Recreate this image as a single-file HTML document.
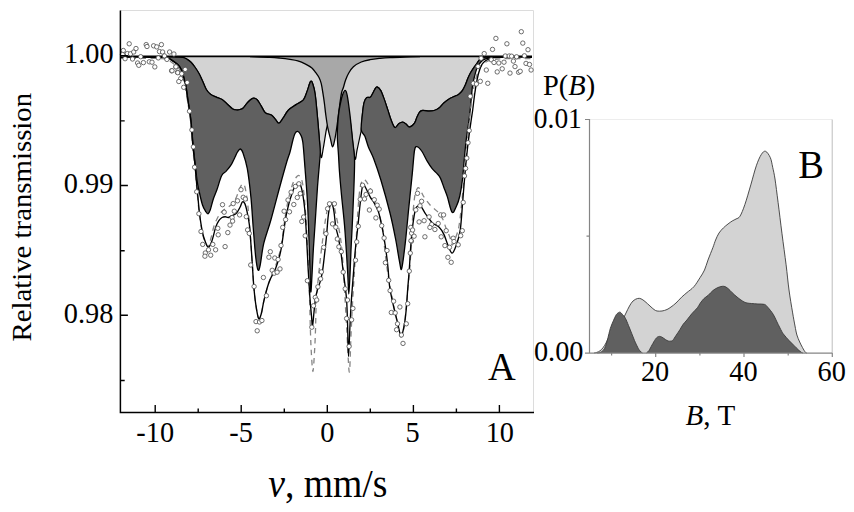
<!DOCTYPE html>
<html><head><meta charset="utf-8"><style>
html,body{margin:0;padding:0;background:#fff;width:854px;height:512px;overflow:hidden}
svg{display:block;font-family:"Liberation Serif",serif}
</style></head><body>
<svg width="854" height="512" viewBox="0 0 854 512">
<rect width="854" height="512" fill="#fff"/>
<path d="M120.5 10.5 H533.5 V412.5" fill="none" stroke="#dcdcdc" stroke-width="1"/>
<path d="M168.00 56.80 C169.33 56.83 173.50 56.92 176.00 57.00 C178.50 57.08 181.12 56.90 183.00 57.30 C184.88 57.70 185.93 58.53 187.30 59.40 C188.68 60.27 189.93 61.15 191.25 62.50 C192.57 63.85 193.91 65.67 195.20 67.50 C196.49 69.33 197.85 71.42 199.00 73.50 C200.15 75.58 200.88 77.33 202.10 80.00 C203.32 82.67 204.90 87.13 206.30 89.50 C207.70 91.87 208.92 92.97 210.50 94.20 C212.08 95.43 213.87 96.02 215.80 96.90 C217.73 97.78 220.17 98.28 222.10 99.50 C224.03 100.72 225.63 102.62 227.40 104.20 C229.17 105.78 231.12 108.03 232.70 109.00 C234.28 109.97 235.68 109.92 236.90 110.00 C238.12 110.08 238.95 109.85 240.00 109.50 C241.05 109.15 241.97 109.03 243.20 107.90 C244.43 106.77 245.82 104.28 247.40 102.70 C248.98 101.12 251.12 98.93 252.70 98.40 C254.28 97.87 255.50 98.27 256.90 99.50 C258.30 100.73 259.70 103.60 261.10 105.80 C262.50 108.00 263.53 111.12 265.30 112.70 C267.07 114.28 269.93 114.08 271.70 115.30 C273.47 116.52 274.68 118.68 275.90 120.00 C277.12 121.32 277.78 123.55 279.00 123.20 C280.22 122.85 281.62 120.10 283.20 117.90 C284.78 115.70 286.30 112.25 288.50 110.00 C290.70 107.75 293.92 106.10 296.40 104.40 C298.88 102.70 301.63 101.93 303.40 99.80 C305.17 97.67 305.82 94.65 307.00 91.60 C308.18 88.55 309.53 82.77 310.50 81.50 C311.47 80.23 312.02 81.83 312.80 84.00 C313.58 86.17 314.42 88.95 315.20 94.50 C315.98 100.05 316.78 109.58 317.50 117.30 C318.22 125.02 318.88 134.10 319.50 140.80 C320.12 147.50 320.53 156.47 321.20 157.50 C321.87 158.53 322.58 151.92 323.50 147.00 C324.42 142.08 325.62 132.83 326.70 128.00 C327.78 123.17 328.62 120.67 330.00 118.00 C331.38 115.33 333.33 114.17 335.00 112.00 C336.67 109.83 338.33 107.00 340.00 105.00 C341.67 103.00 343.33 97.50 345.00 100.00 C346.67 102.50 348.67 112.50 350.00 120.00 C351.33 127.50 352.13 138.47 353.00 145.00 C353.87 151.53 354.53 158.30 355.20 159.20 C355.87 160.10 356.27 153.92 357.00 150.40 C357.73 146.88 358.87 141.62 359.60 138.10 C360.33 134.58 360.95 133.12 361.40 129.30 C361.85 125.48 361.87 119.60 362.30 115.20 C362.73 110.80 363.27 105.83 364.00 102.90 C364.73 99.97 365.67 98.53 366.70 97.60 C367.73 96.67 369.18 98.03 370.20 97.30 C371.22 96.57 372.00 94.58 372.80 93.20 C373.60 91.82 374.27 90.03 375.00 89.00 C375.73 87.97 376.23 86.73 377.20 87.00 C378.17 87.27 379.62 88.53 380.80 90.60 C381.98 92.67 383.13 96.18 384.30 99.40 C385.47 102.62 386.63 106.38 387.80 109.90 C388.97 113.42 390.10 117.57 391.30 120.50 C392.50 123.43 393.72 127.00 395.00 127.50 C396.28 128.00 397.70 124.40 399.00 123.50 C400.30 122.60 401.63 122.02 402.80 122.10 C403.97 122.18 404.87 123.18 406.00 124.00 C407.13 124.82 408.18 127.15 409.60 127.00 C411.02 126.85 413.27 124.77 414.50 123.10 C415.73 121.43 416.18 118.80 417.00 117.00 C417.82 115.20 418.52 113.38 419.40 112.30 C420.28 111.22 420.67 110.72 422.30 110.50 C423.93 110.28 427.23 111.00 429.20 111.00 C431.17 111.00 432.47 111.00 434.10 110.50 C435.73 110.00 437.38 109.25 439.00 108.00 C440.62 106.75 442.18 104.47 443.80 103.00 C445.42 101.53 447.07 100.25 448.70 99.20 C450.33 98.15 451.97 97.48 453.60 96.70 C455.23 95.92 457.03 95.53 458.50 94.50 C459.97 93.47 461.27 92.08 462.40 90.50 C463.53 88.92 464.40 87.00 465.30 85.00 C466.20 83.00 466.95 80.50 467.80 78.50 C468.65 76.50 469.40 74.82 470.40 73.00 C471.40 71.18 472.65 69.28 473.80 67.60 C474.95 65.92 476.33 64.23 477.30 62.90 C478.27 61.57 478.73 60.48 479.60 59.60 C480.47 58.72 481.43 58.03 482.50 57.60 C483.57 57.17 483.08 57.13 486.00 57.00 C488.92 56.87 497.67 56.88 500.00 56.80 C502.33 56.72 555.33 56.55 500.00 56.50 C444.67 56.45 223.33 56.50 168.00 56.50 Z" fill="#d3d3d3" stroke="none"/>
<path d="M168.00 56.80 C169.33 56.83 173.50 56.92 176.00 57.00 C178.50 57.08 181.12 56.90 183.00 57.30 C184.88 57.70 185.93 58.53 187.30 59.40 C188.68 60.27 189.93 61.15 191.25 62.50 C192.57 63.85 193.91 65.67 195.20 67.50 C196.49 69.33 197.85 71.42 199.00 73.50 C200.15 75.58 200.88 77.33 202.10 80.00 C203.32 82.67 204.90 87.13 206.30 89.50 C207.70 91.87 208.92 92.97 210.50 94.20 C212.08 95.43 213.87 96.02 215.80 96.90 C217.73 97.78 220.17 98.28 222.10 99.50 C224.03 100.72 225.63 102.62 227.40 104.20 C229.17 105.78 231.12 108.03 232.70 109.00 C234.28 109.97 235.68 109.92 236.90 110.00 C238.12 110.08 238.95 109.85 240.00 109.50 C241.05 109.15 241.97 109.03 243.20 107.90 C244.43 106.77 245.82 104.28 247.40 102.70 C248.98 101.12 251.12 98.93 252.70 98.40 C254.28 97.87 255.50 98.27 256.90 99.50 C258.30 100.73 259.70 103.60 261.10 105.80 C262.50 108.00 263.53 111.12 265.30 112.70 C267.07 114.28 269.93 114.08 271.70 115.30 C273.47 116.52 274.68 118.68 275.90 120.00 C277.12 121.32 277.78 123.55 279.00 123.20 C280.22 122.85 281.62 120.10 283.20 117.90 C284.78 115.70 286.30 112.25 288.50 110.00 C290.70 107.75 293.92 106.10 296.40 104.40 C298.88 102.70 301.63 101.93 303.40 99.80 C305.17 97.67 305.82 94.65 307.00 91.60 C308.18 88.55 309.53 82.77 310.50 81.50 C311.47 80.23 312.02 81.83 312.80 84.00 C313.58 86.17 314.42 88.95 315.20 94.50 C315.98 100.05 316.78 109.58 317.50 117.30 C318.22 125.02 318.88 134.10 319.50 140.80 C320.12 147.50 320.53 156.47 321.20 157.50 C321.87 158.53 322.58 151.92 323.50 147.00 C324.42 142.08 325.62 132.83 326.70 128.00 C327.78 123.17 328.62 120.67 330.00 118.00 C331.38 115.33 333.33 114.17 335.00 112.00 C336.67 109.83 338.33 107.00 340.00 105.00 C341.67 103.00 343.33 97.50 345.00 100.00 C346.67 102.50 348.67 112.50 350.00 120.00 C351.33 127.50 352.13 138.47 353.00 145.00 C353.87 151.53 354.53 158.30 355.20 159.20 C355.87 160.10 356.27 153.92 357.00 150.40 C357.73 146.88 358.87 141.62 359.60 138.10 C360.33 134.58 360.95 133.12 361.40 129.30 C361.85 125.48 361.87 119.60 362.30 115.20 C362.73 110.80 363.27 105.83 364.00 102.90 C364.73 99.97 365.67 98.53 366.70 97.60 C367.73 96.67 369.18 98.03 370.20 97.30 C371.22 96.57 372.00 94.58 372.80 93.20 C373.60 91.82 374.27 90.03 375.00 89.00 C375.73 87.97 376.23 86.73 377.20 87.00 C378.17 87.27 379.62 88.53 380.80 90.60 C381.98 92.67 383.13 96.18 384.30 99.40 C385.47 102.62 386.63 106.38 387.80 109.90 C388.97 113.42 390.10 117.57 391.30 120.50 C392.50 123.43 393.72 127.00 395.00 127.50 C396.28 128.00 397.70 124.40 399.00 123.50 C400.30 122.60 401.63 122.02 402.80 122.10 C403.97 122.18 404.87 123.18 406.00 124.00 C407.13 124.82 408.18 127.15 409.60 127.00 C411.02 126.85 413.27 124.77 414.50 123.10 C415.73 121.43 416.18 118.80 417.00 117.00 C417.82 115.20 418.52 113.38 419.40 112.30 C420.28 111.22 420.67 110.72 422.30 110.50 C423.93 110.28 427.23 111.00 429.20 111.00 C431.17 111.00 432.47 111.00 434.10 110.50 C435.73 110.00 437.38 109.25 439.00 108.00 C440.62 106.75 442.18 104.47 443.80 103.00 C445.42 101.53 447.07 100.25 448.70 99.20 C450.33 98.15 451.97 97.48 453.60 96.70 C455.23 95.92 457.03 95.53 458.50 94.50 C459.97 93.47 461.27 92.08 462.40 90.50 C463.53 88.92 464.40 87.00 465.30 85.00 C466.20 83.00 466.95 80.50 467.80 78.50 C468.65 76.50 469.40 74.82 470.40 73.00 C471.40 71.18 472.65 69.28 473.80 67.60 C474.95 65.92 476.33 64.23 477.30 62.90 C478.27 61.57 478.73 60.48 479.60 59.60 C480.47 58.72 481.43 58.03 482.50 57.60 C483.57 57.17 483.08 57.13 486.00 57.00 C488.92 56.87 497.67 56.83 500.00 56.80" fill="none" stroke="#000" stroke-width="1.2"/>
<path d="M250.00 56.60 C253.33 56.72 265.00 57.05 270.00 57.30 C275.00 57.55 276.67 57.75 280.00 58.10 C283.33 58.45 287.03 58.93 290.00 59.40 C292.97 59.87 295.20 60.12 297.80 60.90 C300.40 61.68 303.25 62.92 305.60 64.10 C307.95 65.28 310.20 66.57 311.90 68.00 C313.60 69.43 314.63 71.15 315.80 72.70 C316.97 74.25 317.99 75.48 318.90 77.30 C319.81 79.12 320.57 80.87 321.25 83.60 C321.93 86.33 322.46 90.30 323.00 93.70 C323.54 97.10 324.05 100.58 324.50 104.00 C324.95 107.42 325.15 110.22 325.70 114.20 C326.25 118.18 327.00 123.78 327.80 127.90 C328.60 132.02 329.72 135.75 330.50 138.90 C331.28 142.05 331.80 146.62 332.50 146.80 C333.20 146.98 333.95 143.47 334.70 140.00 C335.45 136.53 336.23 131.33 337.00 126.00 C337.77 120.67 338.55 113.50 339.30 108.00 C340.05 102.50 340.83 96.37 341.50 93.00 C342.17 89.63 342.62 89.97 343.30 87.80 C343.98 85.63 344.69 82.47 345.60 80.00 C346.51 77.53 347.45 75.22 348.75 73.00 C350.05 70.78 351.32 68.53 353.40 66.70 C355.48 64.87 358.48 63.17 361.25 62.00 C364.02 60.83 366.88 60.30 370.00 59.70 C373.12 59.10 376.67 58.75 380.00 58.40 C383.33 58.05 385.83 57.83 390.00 57.60 C394.17 57.37 400.00 57.17 405.00 57.00 C410.00 56.83 417.50 56.67 420.00 56.60" fill="#a8a8a8" stroke="#000" stroke-width="1.3" stroke-linejoin="round"/>
<path d="M168.00 56.80 C169.50 56.77 173.50 56.92 176.00 57.00 C178.50 57.08 181.12 56.90 183.00 57.30 C184.88 57.70 185.93 58.53 187.30 59.40 C188.68 60.27 189.93 61.15 191.25 62.50 C192.57 63.85 193.91 65.67 195.20 67.50 C196.49 69.33 197.85 71.42 199.00 73.50 C200.15 75.58 200.88 77.33 202.10 80.00 C203.32 82.67 204.90 87.13 206.30 89.50 C207.70 91.87 208.92 92.97 210.50 94.20 C212.08 95.43 213.87 96.02 215.80 96.90 C217.73 97.78 220.17 98.28 222.10 99.50 C224.03 100.72 225.63 102.62 227.40 104.20 C229.17 105.78 231.12 108.03 232.70 109.00 C234.28 109.97 235.68 109.92 236.90 110.00 C238.12 110.08 238.95 109.85 240.00 109.50 C241.05 109.15 241.97 109.03 243.20 107.90 C244.43 106.77 245.82 104.28 247.40 102.70 C248.98 101.12 251.12 98.93 252.70 98.40 C254.28 97.87 255.50 98.27 256.90 99.50 C258.30 100.73 259.70 103.60 261.10 105.80 C262.50 108.00 263.53 111.12 265.30 112.70 C267.07 114.28 269.93 114.08 271.70 115.30 C273.47 116.52 274.68 118.68 275.90 120.00 C277.12 121.32 277.78 123.55 279.00 123.20 C280.22 122.85 281.62 120.10 283.20 117.90 C284.78 115.70 286.30 112.25 288.50 110.00 C290.70 107.75 293.92 106.10 296.40 104.40 C298.88 102.70 301.63 101.93 303.40 99.80 C305.17 97.67 305.82 94.65 307.00 91.60 C308.18 88.55 309.53 82.77 310.50 81.50 C311.47 80.23 312.02 81.83 312.80 84.00 C313.58 86.17 314.42 88.95 315.20 94.50 C315.98 100.05 316.78 109.58 317.50 117.30 C318.22 125.02 319.03 135.02 319.50 140.80 C319.97 146.58 320.28 148.47 320.30 152.00 C320.32 155.53 320.07 156.18 319.60 162.00 C319.13 167.82 318.23 176.90 317.50 186.90 C316.77 196.90 315.90 211.48 315.20 222.00 C314.50 232.52 313.83 241.17 313.30 250.00 C312.77 258.83 312.42 268.00 312.00 275.00 C311.58 282.00 311.13 292.83 310.80 292.00 C310.47 291.17 310.30 278.67 310.00 270.00 C309.70 261.33 309.42 251.25 309.00 240.00 C308.58 228.75 308.17 214.50 307.50 202.50 C306.83 190.50 305.78 178.08 305.00 168.00 C304.22 157.92 303.55 147.58 302.80 142.00 C302.05 136.42 301.37 136.27 300.50 134.50 C299.63 132.73 298.52 131.57 297.60 131.40 C296.68 131.23 295.78 132.07 295.00 133.50 C294.22 134.93 293.73 136.92 292.90 140.00 C292.07 143.08 290.98 148.50 290.00 152.00 C289.02 155.50 288.67 155.33 287.00 161.00 C285.33 166.67 282.70 176.12 280.00 186.00 C277.30 195.88 273.52 210.68 270.80 220.30 C268.08 229.92 265.47 236.25 263.70 243.70 C261.93 251.15 261.15 260.62 260.20 265.00 C259.25 269.38 258.75 271.33 258.00 270.00 C257.25 268.67 256.50 264.12 255.70 257.00 C254.90 249.88 254.00 237.32 253.20 227.30 C252.40 217.28 251.88 206.67 250.90 196.90 C249.92 187.13 248.62 176.02 247.30 168.70 C245.98 161.38 244.17 156.28 243.00 153.00 C241.83 149.72 241.22 149.17 240.30 149.00 C239.38 148.83 238.28 150.85 237.50 152.00 C236.72 153.15 236.70 153.70 235.60 155.90 C234.50 158.10 232.47 162.67 230.90 165.20 C229.33 167.73 227.75 169.33 226.20 171.10 C224.65 172.87 223.15 172.68 221.60 175.80 C220.05 178.92 218.27 185.97 216.90 189.80 C215.53 193.63 214.50 195.48 213.40 198.80 C212.30 202.12 211.20 207.20 210.30 209.70 C209.40 212.20 208.78 213.53 208.00 213.80 C207.22 214.07 206.52 212.77 205.60 211.30 C204.68 209.83 203.53 208.13 202.50 205.00 C201.47 201.87 200.32 196.67 199.40 192.50 C198.48 188.33 198.03 187.83 197.00 180.00 C195.97 172.17 194.22 155.50 193.20 145.50 C192.18 135.50 191.77 127.58 190.90 120.00 C190.03 112.42 188.82 105.67 188.00 100.00 C187.18 94.33 186.60 89.38 186.00 86.00 C185.40 82.62 184.92 81.80 184.40 79.70 C183.88 77.60 183.42 75.10 182.90 73.40 C182.38 71.70 181.95 70.80 181.30 69.50 C180.65 68.20 179.92 66.70 179.00 65.60 C178.08 64.50 177.13 63.90 175.80 62.90 C174.47 61.90 172.47 60.55 171.00 59.60 C169.53 58.65 167.50 57.67 167.00 57.20 C166.50 56.73 166.50 56.83 168.00 56.80 Z" fill="#606060" stroke="#000" stroke-width="1.3" stroke-linejoin="round"/>
<path d="M345.20 90.40 C346.00 90.53 346.50 91.67 347.30 95.80 C348.10 99.93 349.12 107.87 350.00 115.20 C350.88 122.53 351.87 133.05 352.60 139.80 C353.33 146.55 354.08 151.00 354.40 155.70 C354.72 160.40 354.60 162.28 354.50 168.00 C354.40 173.72 354.12 181.67 353.80 190.00 C353.48 198.33 353.07 208.00 352.60 218.00 C352.13 228.00 351.43 240.50 351.00 250.00 C350.57 259.50 350.37 267.67 350.00 275.00 C349.63 282.33 349.17 294.00 348.80 294.00 C348.43 294.00 348.17 281.50 347.80 275.00 C347.43 268.50 347.15 263.33 346.60 255.00 C346.05 246.67 345.35 235.00 344.50 225.00 C343.65 215.00 342.33 203.83 341.50 195.00 C340.67 186.17 340.00 178.67 339.50 172.00 C339.00 165.33 338.87 161.17 338.50 155.00 C338.13 148.83 337.30 141.67 337.30 135.00 C337.30 128.33 337.97 120.33 338.50 115.00 C339.03 109.67 339.83 106.33 340.50 103.00 C341.17 99.67 341.72 97.10 342.50 95.00 C343.28 92.90 344.40 90.27 345.20 90.40 Z" fill="#606060" stroke="#000" stroke-width="1.3" stroke-linejoin="round"/>
<path d="M361.20 129.80 C360.77 126.28 361.83 119.68 362.30 115.20 C362.77 110.72 363.27 105.83 364.00 102.90 C364.73 99.97 365.67 98.53 366.70 97.60 C367.73 96.67 369.18 98.03 370.20 97.30 C371.22 96.57 372.00 94.58 372.80 93.20 C373.60 91.82 374.27 90.03 375.00 89.00 C375.73 87.97 376.23 86.73 377.20 87.00 C378.17 87.27 379.62 88.53 380.80 90.60 C381.98 92.67 383.13 96.18 384.30 99.40 C385.47 102.62 386.63 106.38 387.80 109.90 C388.97 113.42 390.10 117.57 391.30 120.50 C392.50 123.43 393.72 127.00 395.00 127.50 C396.28 128.00 397.70 124.40 399.00 123.50 C400.30 122.60 401.63 122.02 402.80 122.10 C403.97 122.18 404.87 123.18 406.00 124.00 C407.13 124.82 408.18 127.15 409.60 127.00 C411.02 126.85 413.27 124.77 414.50 123.10 C415.73 121.43 416.18 118.80 417.00 117.00 C417.82 115.20 418.52 113.38 419.40 112.30 C420.28 111.22 420.67 110.72 422.30 110.50 C423.93 110.28 427.23 111.00 429.20 111.00 C431.17 111.00 432.47 111.00 434.10 110.50 C435.73 110.00 437.38 109.25 439.00 108.00 C440.62 106.75 442.18 104.47 443.80 103.00 C445.42 101.53 447.07 100.25 448.70 99.20 C450.33 98.15 451.97 97.48 453.60 96.70 C455.23 95.92 457.03 95.53 458.50 94.50 C459.97 93.47 461.27 92.08 462.40 90.50 C463.53 88.92 464.40 87.00 465.30 85.00 C466.20 83.00 466.95 80.50 467.80 78.50 C468.65 76.50 469.40 74.82 470.40 73.00 C471.40 71.18 472.65 69.28 473.80 67.60 C474.95 65.92 476.33 64.23 477.30 62.90 C478.27 61.57 478.73 60.48 479.60 59.60 C480.47 58.72 481.43 58.03 482.50 57.60 C483.57 57.17 483.08 57.12 486.00 57.00 C488.92 56.88 498.92 56.83 500.00 56.90 C501.08 56.97 494.53 57.17 492.50 57.40 C490.47 57.63 489.35 57.87 487.80 58.30 C486.25 58.73 484.57 59.13 483.20 60.00 C481.83 60.87 480.68 62.03 479.60 63.50 C478.52 64.97 477.57 66.55 476.70 68.80 C475.83 71.05 475.08 74.27 474.40 77.00 C473.72 79.73 473.10 81.88 472.60 85.20 C472.10 88.52 471.80 92.77 471.40 96.90 C471.00 101.03 470.63 105.82 470.20 110.00 C469.77 114.18 469.47 117.00 468.80 122.00 C468.13 127.00 466.93 134.00 466.20 140.00 C465.47 146.00 465.03 151.33 464.40 158.00 C463.77 164.67 463.17 173.67 462.40 180.00 C461.63 186.33 460.78 191.67 459.80 196.00 C458.82 200.33 457.78 203.28 456.50 206.00 C455.22 208.72 453.62 213.82 452.10 212.30 C450.58 210.78 448.77 201.03 447.40 196.90 C446.03 192.77 445.07 190.63 443.90 187.50 C442.73 184.37 441.57 180.45 440.40 178.10 C439.23 175.75 438.27 174.97 436.90 173.40 C435.53 171.83 433.77 170.65 432.20 168.70 C430.63 166.75 429.20 164.57 427.50 161.70 C425.80 158.83 423.67 153.98 422.00 151.50 C420.33 149.02 418.73 147.05 417.50 146.80 C416.27 146.55 415.47 145.57 414.60 150.00 C413.73 154.43 413.28 163.63 412.30 173.40 C411.32 183.17 409.88 196.88 408.70 208.60 C407.52 220.32 406.37 233.72 405.20 243.70 C404.03 253.68 402.63 265.45 401.70 268.50 C400.77 271.55 400.63 267.00 399.60 262.00 C398.57 257.00 397.10 246.67 395.50 238.50 C393.90 230.33 392.45 222.78 390.00 213.00 C387.55 203.22 383.52 188.85 380.80 179.80 C378.08 170.75 375.77 164.18 373.70 158.70 C371.63 153.22 369.87 150.63 368.40 146.90 C366.93 143.17 366.10 139.15 364.90 136.30 C363.70 133.45 361.63 133.32 361.20 129.80 Z" fill="#606060" stroke="#000" stroke-width="1.3" stroke-linejoin="round"/>
<path d="M120.5 56.4 H532" stroke="#000" stroke-width="1.6"/>
<path d="M120.50 58.30 C125.42 58.30 143.08 58.25 150.00 58.30 C156.92 58.35 159.17 58.40 162.00 58.60 C164.83 58.80 165.58 59.02 167.00 59.50 C168.42 59.98 169.17 60.62 170.50 61.50 C171.83 62.38 173.70 63.80 175.00 64.80 C176.30 65.80 177.35 66.38 178.30 67.50 C179.25 68.62 180.03 70.18 180.70 71.50 C181.37 72.82 181.78 73.70 182.30 75.40 C182.82 77.10 183.28 79.62 183.80 81.70 C184.32 83.78 184.80 84.85 185.40 87.90 C186.00 90.95 186.58 94.73 187.40 100.00 C188.22 105.27 189.45 111.83 190.30 119.50 C191.15 127.17 191.78 138.42 192.50 146.00 C193.22 153.58 194.02 159.33 194.60 165.00 C195.18 170.67 195.52 174.90 196.00 180.00 C196.48 185.10 196.97 190.18 197.50 195.60 C198.03 201.02 198.40 206.35 199.20 212.50 C200.00 218.65 201.27 227.50 202.30 232.50 C203.33 237.50 204.42 240.17 205.40 242.50 C206.38 244.83 207.27 247.25 208.20 246.50 C209.13 245.75 210.03 241.42 211.00 238.00 C211.97 234.58 212.92 229.33 214.00 226.00 C215.08 222.67 216.33 220.25 217.50 218.00 C218.67 215.75 219.75 214.00 221.00 212.50 C222.25 211.00 223.67 210.00 225.00 209.00 C226.33 208.00 227.67 207.50 229.00 206.50 C230.33 205.50 231.75 204.58 233.00 203.00 C234.25 201.42 235.42 199.33 236.50 197.00 C237.58 194.67 238.58 191.08 239.50 189.00 C240.42 186.92 241.22 185.17 242.00 184.50 C242.78 183.83 243.53 183.75 244.20 185.00 C244.87 186.25 245.40 188.67 246.00 192.00 C246.60 195.33 247.23 199.67 247.80 205.00 C248.37 210.33 248.87 217.33 249.40 224.00 C249.93 230.67 250.52 238.33 251.00 245.00 C251.48 251.67 251.85 257.30 252.30 264.00 C252.75 270.70 253.13 278.55 253.70 285.20 C254.27 291.85 254.88 298.35 255.70 303.90 C256.52 309.45 257.65 316.93 258.60 318.50 C259.55 320.07 260.55 316.12 261.40 313.30 C262.25 310.48 262.72 305.90 263.70 301.60 C264.68 297.30 266.12 291.60 267.30 287.50 C268.48 283.40 269.43 280.58 270.80 277.00 C272.17 273.42 274.13 269.67 275.50 266.00 C276.87 262.33 278.00 258.67 279.00 255.00 C280.00 251.33 280.23 251.83 281.50 244.00 C282.77 236.17 284.85 217.67 286.60 208.00 C288.35 198.33 290.35 191.17 292.00 186.00 C293.65 180.83 295.25 178.67 296.50 177.00 C297.75 175.33 298.50 175.00 299.50 176.00 C300.50 177.00 301.58 178.17 302.50 183.00 C303.42 187.83 304.25 196.10 305.00 205.00 C305.75 213.90 306.42 225.65 307.00 236.40 C307.58 247.15 308.07 258.90 308.50 269.50 C308.93 280.10 309.28 289.92 309.60 300.00 C309.92 310.08 310.12 321.33 310.40 330.00 C310.68 338.67 310.88 345.08 311.30 352.00 C311.72 358.92 312.37 371.50 312.90 371.50 C313.43 371.50 314.07 358.92 314.50 352.00 C314.93 345.08 315.17 339.00 315.50 330.00 C315.83 321.00 315.78 309.00 316.50 298.00 C317.22 287.00 318.70 274.27 319.80 264.00 C320.90 253.73 322.00 244.73 323.10 236.40 C324.20 228.07 325.40 219.32 326.40 214.00 C327.40 208.68 328.00 206.25 329.10 204.50 C330.20 202.75 331.82 201.58 333.00 203.50 C334.18 205.42 335.07 210.97 336.20 216.00 C337.33 221.03 338.82 227.70 339.80 233.70 C340.78 239.70 341.32 242.62 342.10 252.00 C342.88 261.38 343.72 277.00 344.50 290.00 C345.28 303.00 346.00 316.33 346.80 330.00 C347.60 343.67 348.60 371.17 349.30 372.00 C350.00 372.83 350.42 347.33 351.00 335.00 C351.58 322.67 352.13 310.17 352.80 298.00 C353.47 285.83 354.25 275.00 355.00 262.00 C355.75 249.00 356.55 231.67 357.30 220.00 C358.05 208.33 358.72 198.50 359.50 192.00 C360.28 185.50 361.08 183.00 362.00 181.00 C362.92 179.00 363.83 179.17 365.00 180.00 C366.17 180.83 367.55 183.17 369.00 186.00 C370.45 188.83 372.13 192.83 373.70 197.00 C375.27 201.17 376.83 205.33 378.40 211.00 C379.97 216.67 382.07 224.83 383.10 231.00 C384.13 237.17 383.85 241.17 384.60 248.00 C385.35 254.83 386.52 264.63 387.60 272.00 C388.68 279.37 389.73 284.93 391.10 292.20 C392.47 299.47 394.23 308.18 395.80 315.60 C397.37 323.02 399.13 334.75 400.50 336.70 C401.87 338.65 403.03 332.38 404.00 327.30 C404.97 322.22 405.52 314.00 406.30 306.20 C407.08 298.40 407.92 289.87 408.70 280.50 C409.48 271.13 410.40 259.75 411.00 250.00 C411.60 240.25 411.72 230.67 412.30 222.00 C412.88 213.33 413.72 203.50 414.50 198.00 C415.28 192.50 416.17 190.58 417.00 189.00 C417.83 187.42 418.33 187.17 419.50 188.50 C420.67 189.83 422.08 194.08 424.00 197.00 C425.92 199.92 428.67 203.50 431.00 206.00 C433.33 208.50 436.05 209.83 438.00 212.00 C439.95 214.17 441.37 216.33 442.70 219.00 C444.03 221.67 444.82 225.00 446.00 228.00 C447.18 231.00 448.78 234.17 449.80 237.00 C450.82 239.83 451.15 244.83 452.10 245.00 C453.05 245.17 454.35 241.17 455.50 238.00 C456.65 234.83 458.00 231.50 459.00 226.00 C460.00 220.50 460.70 212.67 461.50 205.00 C462.30 197.33 463.05 188.17 463.80 180.00 C464.55 171.83 465.25 164.00 466.00 156.00 C466.75 148.00 467.55 139.67 468.30 132.00 C469.05 124.33 469.80 116.17 470.50 110.00 C471.20 103.83 471.75 99.67 472.50 95.00 C473.25 90.33 474.08 85.83 475.00 82.00 C475.92 78.17 476.83 74.83 478.00 72.00 C479.17 69.17 480.50 66.75 482.00 65.00 C483.50 63.25 485.00 62.42 487.00 61.50 C489.00 60.58 491.00 59.97 494.00 59.50 C497.00 59.03 498.67 58.87 505.00 58.70 C511.33 58.53 527.50 58.53 532.00 58.50" fill="none" stroke="#858585" stroke-width="1.3" stroke-dasharray="5.5 4.5"/>
<path d="M120.50 57.20 C125.42 57.20 142.92 57.18 150.00 57.20 C157.08 57.22 160.03 57.20 163.00 57.30 C165.97 57.40 166.48 57.42 167.80 57.80 C169.12 58.18 169.60 58.75 170.90 59.60 C172.20 60.45 174.29 61.90 175.60 62.90 C176.91 63.90 177.83 64.50 178.75 65.60 C179.67 66.70 180.44 68.20 181.10 69.50 C181.76 70.80 182.18 71.70 182.70 73.40 C183.22 75.10 183.68 77.62 184.20 79.70 C184.72 81.78 185.20 82.52 185.80 85.90 C186.40 89.28 186.98 94.40 187.80 100.00 C188.62 105.60 189.85 111.83 190.70 119.50 C191.55 127.17 192.18 138.42 192.90 146.00 C193.62 153.58 194.43 159.33 195.00 165.00 C195.57 170.67 195.83 174.90 196.30 180.00 C196.77 185.10 197.28 190.18 197.80 195.60 C198.32 201.02 198.62 206.35 199.40 212.50 C200.18 218.65 201.47 227.50 202.50 232.50 C203.53 237.50 204.62 240.05 205.60 242.50 C206.58 244.95 207.35 247.47 208.40 247.20 C209.45 246.93 210.67 244.28 211.90 240.90 C213.13 237.52 214.63 230.28 215.80 226.90 C216.97 223.52 217.87 222.17 218.90 220.60 C219.93 219.03 220.95 218.15 222.00 217.50 C223.05 216.85 224.15 216.70 225.20 216.70 C226.25 216.70 227.27 217.63 228.30 217.50 C229.33 217.37 230.10 216.55 231.40 215.90 C232.70 215.25 234.67 215.03 236.10 213.60 C237.53 212.17 238.97 209.25 240.00 207.30 C241.03 205.35 241.52 202.55 242.30 201.90 C243.08 201.25 243.92 201.83 244.70 203.40 C245.48 204.97 246.22 207.70 247.00 211.30 C247.78 214.90 248.73 219.38 249.40 225.00 C250.07 230.62 250.52 238.50 251.00 245.00 C251.48 251.50 251.85 257.30 252.30 264.00 C252.75 270.70 253.13 278.55 253.70 285.20 C254.27 291.85 254.88 298.35 255.70 303.90 C256.52 309.45 257.65 316.93 258.60 318.50 C259.55 320.07 260.55 316.12 261.40 313.30 C262.25 310.48 262.72 305.90 263.70 301.60 C264.68 297.30 266.12 291.42 267.30 287.50 C268.48 283.58 269.43 281.23 270.80 278.10 C272.17 274.97 274.13 272.05 275.50 268.70 C276.87 265.35 278.00 261.62 279.00 258.00 C280.00 254.38 280.23 254.48 281.50 247.00 C282.77 239.52 284.65 222.62 286.60 213.10 C288.55 203.58 291.27 194.87 293.20 189.90 C295.13 184.93 296.82 183.58 298.20 183.30 C299.58 183.02 300.40 183.78 301.50 188.20 C302.60 192.62 303.97 201.77 304.80 209.80 C305.63 217.83 305.93 226.45 306.50 236.40 C307.07 246.35 307.65 259.55 308.20 269.50 C308.75 279.45 309.25 288.35 309.80 296.10 C310.35 303.85 311.05 311.02 311.50 316.00 C311.95 320.98 312.08 326.67 312.50 326.00 C312.92 325.33 313.47 316.82 314.00 312.00 C314.53 307.18 315.07 300.95 315.70 297.10 C316.33 293.25 317.00 291.63 317.80 288.90 C318.60 286.17 319.72 283.67 320.50 280.70 C321.28 277.73 321.93 274.53 322.50 271.10 C323.07 267.67 323.43 263.98 323.90 260.10 C324.37 256.22 324.83 252.13 325.30 247.80 C325.77 243.47 326.25 239.07 326.70 234.10 C327.15 229.13 327.57 222.27 328.00 218.00 C328.43 213.73 328.83 210.87 329.30 208.50 C329.77 206.13 330.27 204.38 330.80 203.80 C331.33 203.22 331.97 203.63 332.50 205.00 C333.03 206.37 333.45 208.33 334.00 212.00 C334.55 215.67 335.17 223.13 335.80 227.00 C336.43 230.87 336.98 231.23 337.80 235.20 C338.62 239.17 339.90 245.60 340.70 250.80 C341.50 256.00 341.95 261.20 342.60 266.40 C343.25 271.60 343.93 276.40 344.60 282.00 C345.27 287.60 346.10 292.83 346.60 300.00 C347.10 307.17 347.28 315.58 347.60 325.00 C347.92 334.42 348.10 356.50 348.50 356.50 C348.90 356.50 349.52 334.42 350.00 325.00 C350.48 315.58 350.83 308.50 351.40 300.00 C351.97 291.50 352.75 282.33 353.40 274.00 C354.05 265.67 354.62 257.33 355.30 250.00 C355.98 242.67 356.78 236.83 357.50 230.00 C358.22 223.17 358.92 215.42 359.60 209.00 C360.28 202.58 361.03 195.53 361.60 191.50 C362.17 187.47 362.52 185.78 363.00 184.80 C363.48 183.82 363.75 184.48 364.50 185.60 C365.25 186.72 366.52 189.55 367.50 191.50 C368.48 193.45 369.27 195.35 370.40 197.30 C371.53 199.25 373.00 200.92 374.30 203.20 C375.60 205.48 377.07 207.75 378.20 211.00 C379.33 214.25 380.12 218.13 381.10 222.70 C382.08 227.27 383.22 233.18 384.10 238.40 C384.98 243.62 385.75 249.12 386.40 254.00 C387.05 258.88 387.45 262.18 388.00 267.70 C388.55 273.22 388.77 280.62 389.70 287.10 C390.63 293.58 392.30 300.73 393.60 306.60 C394.90 312.47 396.27 317.40 397.50 322.30 C398.73 327.20 399.85 335.68 401.00 336.00 C402.15 336.32 403.52 328.77 404.40 324.20 C405.28 319.63 405.75 314.45 406.30 308.60 C406.85 302.75 407.20 295.62 407.70 289.10 C408.20 282.58 408.83 276.02 409.30 269.50 C409.77 262.98 409.97 257.03 410.50 250.00 C411.03 242.97 411.62 234.20 412.50 227.30 C413.38 220.40 414.47 212.12 415.80 208.60 C417.13 205.08 418.93 205.42 420.50 206.20 C422.07 206.98 423.25 210.55 425.20 213.30 C427.15 216.05 429.87 220.37 432.20 222.70 C434.53 225.03 437.25 225.35 439.20 227.30 C441.15 229.25 442.53 231.67 443.90 234.40 C445.27 237.13 446.03 240.58 447.40 243.70 C448.77 246.82 450.53 253.10 452.10 253.10 C453.67 253.10 455.43 247.60 456.80 243.70 C458.17 239.80 459.32 236.72 460.30 229.70 C461.28 222.68 461.92 210.98 462.70 201.60 C463.48 192.22 464.23 182.00 465.00 173.40 C465.77 164.80 466.55 156.90 467.30 150.00 C468.05 143.10 468.85 137.00 469.50 132.00 C470.15 127.00 470.67 123.67 471.20 120.00 C471.73 116.33 472.13 114.23 472.70 110.00 C473.27 105.77 473.97 99.13 474.60 94.60 C475.23 90.07 475.80 86.48 476.50 82.80 C477.20 79.12 477.90 75.55 478.80 72.50 C479.70 69.45 480.78 66.47 481.90 64.50 C483.02 62.53 484.12 61.70 485.50 60.70 C486.88 59.70 488.83 59.00 490.20 58.50 C491.57 58.00 492.07 57.90 493.70 57.70 C495.33 57.50 497.28 57.38 500.00 57.30 C502.72 57.22 504.67 57.22 510.00 57.20 C515.33 57.18 528.33 57.20 532.00 57.20" fill="none" stroke="#000" stroke-width="1.35" stroke-linejoin="round"/>
<g fill="#fff" stroke="#4a4a4a" stroke-width="0.8"><circle cx="129.2" cy="43.8" r="2.2"/><circle cx="123.3" cy="50.5" r="2.2"/><circle cx="127.4" cy="53.6" r="2.2"/><circle cx="130.5" cy="53.8" r="2.2"/><circle cx="133.7" cy="52" r="2.2"/><circle cx="136" cy="48.5" r="2.2"/><circle cx="125.1" cy="58.7" r="2.2"/><circle cx="132.5" cy="59" r="2.2"/><circle cx="137.6" cy="63" r="2.2"/><circle cx="138.8" cy="65.3" r="2.2"/><circle cx="140.7" cy="56.7" r="2.2"/><circle cx="143.4" cy="62.6" r="2.2"/><circle cx="146.2" cy="44.6" r="2.2"/><circle cx="147" cy="46.5" r="2.2"/><circle cx="149.3" cy="61.8" r="2.2"/><circle cx="152" cy="62.2" r="2.2"/><circle cx="154.8" cy="66.9" r="2.2"/><circle cx="153.6" cy="45.8" r="2.2"/><circle cx="156.7" cy="46.9" r="2.2"/><circle cx="161.4" cy="44.6" r="2.2"/><circle cx="159.5" cy="51.6" r="2.2"/><circle cx="162.6" cy="52" r="2.2"/><circle cx="158.3" cy="57.9" r="2.2"/><circle cx="164.5" cy="55.9" r="2.2"/><circle cx="166.9" cy="59.4" r="2.2"/><circle cx="169.6" cy="52" r="2.2"/><circle cx="173.9" cy="54" r="2.2"/><circle cx="175.9" cy="66.9" r="2.2"/><circle cx="171.6" cy="70.8" r="2.2"/><circle cx="177.4" cy="72.3" r="2.2"/><circle cx="122.5" cy="54.5" r="2.2"/><circle cx="172" cy="70.7" r="2.2"/><circle cx="175.9" cy="66.8" r="2.2"/><circle cx="177.8" cy="72.7" r="2.2"/><circle cx="181.7" cy="73.7" r="2.2"/><circle cx="185.2" cy="69.4" r="2.2"/><circle cx="180.7" cy="78.6" r="2.2"/><circle cx="178.8" cy="81.5" r="2.2"/><circle cx="187.2" cy="82.5" r="2.2"/><circle cx="183.7" cy="87.3" r="2.2"/><circle cx="189.5" cy="111.2" r="2.2"/><circle cx="191.9" cy="129.9" r="2.2"/><circle cx="193.4" cy="146.9" r="2.2"/><circle cx="194.6" cy="167.2" r="2.2"/><circle cx="196.7" cy="191.8" r="2.2"/><circle cx="198.9" cy="213.7" r="2.2"/><circle cx="201" cy="231.5" r="2.2"/><circle cx="202.7" cy="244.4" r="2.2"/><circle cx="208.5" cy="249.8" r="2.2"/><circle cx="212.8" cy="244.4" r="2.2"/><circle cx="205.3" cy="253" r="2.2"/><circle cx="204.9" cy="256.2" r="2.2"/><circle cx="210.7" cy="255.2" r="2.2"/><circle cx="215.6" cy="249.8" r="2.2"/><circle cx="218.2" cy="234.8" r="2.2"/><circle cx="217.8" cy="228.3" r="2.2"/><circle cx="225.1" cy="246.6" r="2.2"/><circle cx="227.8" cy="232.6" r="2.2"/><circle cx="230" cy="225.1" r="2.2"/><circle cx="222.5" cy="204.7" r="2.2"/><circle cx="224.2" cy="212.2" r="2.2"/><circle cx="232.1" cy="217.6" r="2.2"/><circle cx="234.3" cy="211.2" r="2.2"/><circle cx="233.2" cy="203.6" r="2.2"/><circle cx="232.6" cy="221.1" r="2.2"/><circle cx="237.5" cy="200.8" r="2.2"/><circle cx="241" cy="189.7" r="2.2"/><circle cx="243.2" cy="197.3" r="2.2"/><circle cx="245.3" cy="199" r="2.2"/><circle cx="239.6" cy="214.9" r="2.2"/><circle cx="246.3" cy="216.7" r="2.2"/><circle cx="247.6" cy="229.9" r="2.2"/><circle cx="249.3" cy="233.4" r="2.2"/><circle cx="250.7" cy="265" r="2.2"/><circle cx="254.1" cy="286.5" r="2.2"/><circle cx="256" cy="321.6" r="2.2"/><circle cx="259.5" cy="322" r="2.2"/><circle cx="261.9" cy="320.5" r="2.2"/><circle cx="257.2" cy="330.8" r="2.2"/><circle cx="266.4" cy="295.7" r="2.2"/><circle cx="263.4" cy="277.5" r="2.2"/><circle cx="272.2" cy="270.3" r="2.2"/><circle cx="274.2" cy="273.2" r="2.2"/><circle cx="277.1" cy="272.2" r="2.2"/><circle cx="280" cy="268.9" r="2.2"/><circle cx="268.9" cy="257.2" r="2.2"/><circle cx="270.3" cy="251.7" r="2.2"/><circle cx="274.8" cy="258" r="2.2"/><circle cx="278.1" cy="259.5" r="2.2"/><circle cx="281" cy="245.5" r="2.2"/><circle cx="282.7" cy="227.4" r="2.2"/><circle cx="285.6" cy="219.6" r="2.2"/><circle cx="284.1" cy="211.2" r="2.2"/><circle cx="289.5" cy="211.8" r="2.2"/><circle cx="288" cy="200" r="2.2"/><circle cx="293.8" cy="204.5" r="2.2"/><circle cx="291.1" cy="192.2" r="2.2"/><circle cx="297.3" cy="197.5" r="2.2"/><circle cx="300.3" cy="193.6" r="2.2"/><circle cx="295.4" cy="186.4" r="2.2"/><circle cx="298.9" cy="183.8" r="2.2"/><circle cx="303.6" cy="217" r="2.2"/><circle cx="301.8" cy="221.5" r="2.2"/><circle cx="305.2" cy="235.8" r="2.2"/><circle cx="307.4" cy="280.7" r="2.2"/><circle cx="321.4" cy="271.9" r="2.2"/><circle cx="320.6" cy="278.9" r="2.2"/><circle cx="317.9" cy="286.8" r="2.2"/><circle cx="315.3" cy="297.4" r="2.2"/><circle cx="316.7" cy="300" r="2.2"/><circle cx="313.5" cy="305.8" r="2.2"/><circle cx="311.8" cy="327.2" r="2.2"/><circle cx="329.5" cy="203.8" r="2.2"/><circle cx="334.4" cy="203.8" r="2.2"/><circle cx="327.6" cy="208.7" r="2.2"/><circle cx="332.5" cy="223.9" r="2.2"/><circle cx="335.8" cy="227.2" r="2.2"/><circle cx="326" cy="233.7" r="2.2"/><circle cx="337.3" cy="239" r="2.2"/><circle cx="323.7" cy="247.3" r="2.2"/><circle cx="338.9" cy="246.8" r="2.2"/><circle cx="341.3" cy="251.6" r="2.2"/><circle cx="343.2" cy="272.1" r="2.2"/><circle cx="345.2" cy="288.8" r="2.2"/><circle cx="346.6" cy="318.5" r="2.2"/><circle cx="351.6" cy="319.8" r="2.2"/><circle cx="352.9" cy="308.4" r="2.2"/><circle cx="349.1" cy="346.4" r="2.2"/><circle cx="355.5" cy="260.2" r="2.2"/><circle cx="347.5" cy="300" r="2.2"/><circle cx="362.6" cy="185.2" r="2.2"/><circle cx="360.2" cy="199.3" r="2.2"/><circle cx="364.5" cy="198.9" r="2.2"/><circle cx="366.1" cy="194.4" r="2.2"/><circle cx="370.4" cy="191.1" r="2.2"/><circle cx="374.3" cy="199.7" r="2.2"/><circle cx="377.2" cy="205.2" r="2.2"/><circle cx="379.2" cy="209.1" r="2.2"/><circle cx="369.4" cy="210" r="2.2"/><circle cx="375.9" cy="217.9" r="2.2"/><circle cx="381.7" cy="225.7" r="2.2"/><circle cx="358.3" cy="226.3" r="2.2"/><circle cx="384.1" cy="238" r="2.2"/><circle cx="356.7" cy="241.9" r="2.2"/><circle cx="387" cy="250.5" r="2.2"/><circle cx="385.4" cy="262.7" r="2.2"/><circle cx="388.7" cy="280.3" r="2.2"/><circle cx="390.1" cy="290.6" r="2.2"/><circle cx="393.6" cy="301.2" r="2.2"/><circle cx="399.9" cy="307" r="2.2"/><circle cx="391.3" cy="312.5" r="2.2"/><circle cx="395.2" cy="312.9" r="2.2"/><circle cx="397.5" cy="323.8" r="2.2"/><circle cx="396.6" cy="329.7" r="2.2"/><circle cx="401.4" cy="335" r="2.2"/><circle cx="403" cy="343.4" r="2.2"/><circle cx="406.3" cy="323.8" r="2.2"/><circle cx="407.7" cy="303.7" r="2.2"/><circle cx="409.3" cy="271.1" r="2.2"/><circle cx="417.5" cy="193.3" r="2.2"/><circle cx="421.6" cy="201.3" r="2.2"/><circle cx="420" cy="205.8" r="2.2"/><circle cx="415.8" cy="209.9" r="2.2"/><circle cx="419.1" cy="221.9" r="2.2"/><circle cx="424.1" cy="220.7" r="2.2"/><circle cx="429.1" cy="216.9" r="2.2"/><circle cx="431.6" cy="224.5" r="2.2"/><circle cx="429.9" cy="227.4" r="2.2"/><circle cx="434.9" cy="229.5" r="2.2"/><circle cx="438.2" cy="223.5" r="2.2"/><circle cx="440.7" cy="214.9" r="2.2"/><circle cx="443.6" cy="214.9" r="2.2"/><circle cx="424.9" cy="236.8" r="2.2"/><circle cx="411.6" cy="233.2" r="2.2"/><circle cx="414.1" cy="236.2" r="2.2"/><circle cx="410.8" cy="227.4" r="2.2"/><circle cx="441.2" cy="236.8" r="2.2"/><circle cx="446.2" cy="230.7" r="2.2"/><circle cx="444.9" cy="245.6" r="2.2"/><circle cx="449.5" cy="247.3" r="2.2"/><circle cx="453.2" cy="238.2" r="2.2"/><circle cx="454" cy="241.5" r="2.2"/><circle cx="458.2" cy="244.8" r="2.2"/><circle cx="460.7" cy="235.7" r="2.2"/><circle cx="462.3" cy="230.7" r="2.2"/><circle cx="447.9" cy="257.3" r="2.2"/><circle cx="451.2" cy="262.3" r="2.2"/><circle cx="463.2" cy="202.4" r="2.2"/><circle cx="464.5" cy="175.9" r="2.2"/><circle cx="465.6" cy="168.4" r="2.2"/><circle cx="466.8" cy="158.1" r="2.2"/><circle cx="468" cy="142.7" r="2.2"/><circle cx="469.2" cy="130.5" r="2.2"/><circle cx="410.3" cy="253.1" r="2.2"/><circle cx="411.4" cy="241.2" r="2.2"/><circle cx="412.6" cy="230" r="2.2"/><circle cx="411" cy="240.7" r="2.2"/><circle cx="495.9" cy="38.4" r="2.2"/><circle cx="521.3" cy="31.7" r="2.2"/><circle cx="506.9" cy="43.8" r="2.2"/><circle cx="522.8" cy="43.1" r="2.2"/><circle cx="492.5" cy="49.4" r="2.2"/><circle cx="528" cy="49.7" r="2.2"/><circle cx="484.2" cy="53.6" r="2.2"/><circle cx="505.3" cy="56" r="2.2"/><circle cx="509.2" cy="56" r="2.2"/><circle cx="511.6" cy="56.2" r="2.2"/><circle cx="516.6" cy="56.8" r="2.2"/><circle cx="524.4" cy="55.8" r="2.2"/><circle cx="491.3" cy="59.8" r="2.2"/><circle cx="494" cy="62.5" r="2.2"/><circle cx="498.8" cy="63" r="2.2"/><circle cx="504" cy="62.2" r="2.2"/><circle cx="513.4" cy="61.1" r="2.2"/><circle cx="526" cy="63.4" r="2.2"/><circle cx="529.5" cy="64.5" r="2.2"/><circle cx="531.1" cy="70" r="2.2"/><circle cx="515" cy="66.6" r="2.2"/><circle cx="502.2" cy="68.8" r="2.2"/><circle cx="497.2" cy="71.9" r="2.2"/><circle cx="486.3" cy="70" r="2.2"/><circle cx="510" cy="73.1" r="2.2"/><circle cx="518.6" cy="72.3" r="2.2"/><circle cx="520.2" cy="71.3" r="2.2"/><circle cx="478" cy="66.4" r="2.2"/><circle cx="481.1" cy="58.3" r="2.2"/><circle cx="480.3" cy="81.3" r="2.2"/><circle cx="487.8" cy="83.3" r="2.2"/><circle cx="473.3" cy="83.3" r="2.2"/><circle cx="476.4" cy="84" r="2.2"/><circle cx="470.2" cy="96.3" r="2.2"/></g>
<path d="M120.4 10.5 V412.5 H534" fill="none" stroke="#000" stroke-width="1.5"/>
<path d="M120.4 55.7 h7.5 M120.4 185.5 h7.5 M120.4 315.3 h7.5 M120.4 120.9 h4.3 M120.4 250.7 h4.3 M120.4 380.5 h4.3 M155.2 412.5 v-7.5 M241.2 412.5 v-7.5 M327.3 412.5 v-7.5 M413.4 412.5 v-7.5 M499.4 412.5 v-7.5 M198.2 412.5 v-4 M284.3 412.5 v-4 M370.3 412.5 v-4 M456.4 412.5 v-4 " stroke="#000" stroke-width="1.4"/>
<path d="M589.5 119.5 H832" fill="none" stroke="#ededed" stroke-width="1"/>
<path d="M832.2 119.5 V353" fill="none" stroke="#bdbdbd" stroke-width="1"/>
<path d="M594.00 353.00 C594.50 352.88 596.00 352.67 597.00 352.30 C598.00 351.93 599.00 351.55 600.00 350.80 C601.00 350.05 602.00 349.10 603.00 347.80 C604.00 346.50 605.17 344.47 606.00 343.00 C606.83 341.53 606.83 340.83 608.00 339.00 C609.17 337.17 611.33 334.17 613.00 332.00 C614.67 329.83 616.50 327.83 618.00 326.00 C619.50 324.17 620.67 323.17 622.00 321.00 C623.33 318.83 624.75 315.50 626.00 313.00 C627.25 310.50 628.33 308.00 629.50 306.00 C630.67 304.00 631.67 302.25 633.00 301.00 C634.33 299.75 636.17 298.87 637.50 298.50 C638.83 298.13 639.75 298.30 641.00 298.80 C642.25 299.30 643.50 300.30 645.00 301.50 C646.50 302.70 648.50 304.67 650.00 306.00 C651.50 307.33 652.83 308.67 654.00 309.50 C655.17 310.33 655.67 310.75 657.00 311.00 C658.33 311.25 660.33 311.25 662.00 311.00 C663.67 310.75 665.50 310.17 667.00 309.50 C668.50 308.83 669.50 308.08 671.00 307.00 C672.50 305.92 674.23 304.63 676.00 303.00 C677.77 301.37 679.77 298.95 681.60 297.20 C683.43 295.45 684.95 294.25 687.00 292.50 C689.05 290.75 691.73 289.17 693.90 286.70 C696.07 284.23 698.23 280.48 700.00 277.70 C701.77 274.92 703.17 272.95 704.50 270.00 C705.83 267.05 706.60 263.73 708.00 260.00 C709.40 256.27 711.63 250.93 712.90 247.60 C714.17 244.27 714.58 242.43 715.60 240.00 C716.62 237.57 717.70 235.02 719.00 233.00 C720.30 230.98 721.90 229.40 723.40 227.90 C724.90 226.40 726.53 225.15 728.00 224.00 C729.47 222.85 730.87 221.83 732.20 221.00 C733.53 220.17 734.70 219.80 736.00 219.00 C737.30 218.20 738.52 218.62 740.00 216.20 C741.48 213.78 743.10 209.72 744.90 204.50 C746.70 199.28 748.90 191.35 750.80 184.90 C752.70 178.45 754.55 170.87 756.30 165.80 C758.05 160.73 759.75 156.92 761.30 154.50 C762.85 152.08 764.10 150.78 765.60 151.30 C767.10 151.82 769.12 154.93 770.30 157.60 C771.48 160.27 771.92 163.73 772.70 167.30 C773.48 170.87 774.10 173.13 775.00 179.00 C775.90 184.87 776.93 193.37 778.10 202.50 C779.27 211.63 780.67 223.42 782.00 233.80 C783.33 244.18 784.93 255.43 786.10 264.80 C787.27 274.17 787.93 282.12 789.00 290.00 C790.07 297.88 791.50 306.10 792.50 312.10 C793.50 318.10 794.27 322.18 795.00 326.00 C795.73 329.82 796.12 332.33 796.90 335.00 C797.68 337.67 798.77 339.90 799.70 342.00 C800.63 344.10 801.57 345.90 802.50 347.60 C803.43 349.30 804.55 351.28 805.30 352.20 C806.05 353.12 806.72 352.95 807.00 353.10" fill="#d3d3d3" stroke="#3a3a3a" stroke-width="0.9"/>
<path d="M597.00 353.00 C597.50 352.93 598.93 353.07 600.00 352.60 C601.07 352.13 602.50 351.22 603.40 350.20 C604.30 349.18 604.77 348.05 605.40 346.50 C606.03 344.95 606.60 343.07 607.20 340.90 C607.80 338.73 608.37 335.90 609.00 333.50 C609.63 331.10 609.88 329.47 611.00 326.50 C612.12 323.53 614.53 317.95 615.70 315.70 C616.87 313.45 617.27 313.58 618.00 313.00 C618.73 312.42 619.35 311.95 620.10 312.20 C620.85 312.45 621.62 313.48 622.50 314.50 C623.38 315.52 624.40 316.47 625.40 318.30 C626.40 320.13 627.47 323.02 628.50 325.50 C629.53 327.98 630.60 330.70 631.60 333.20 C632.60 335.70 633.48 338.15 634.50 340.50 C635.52 342.85 636.78 345.55 637.70 347.30 C638.62 349.05 639.20 350.05 640.00 351.00 C640.80 351.95 642.08 352.67 642.50 353.00" fill="#606060" stroke="#3a3a3a" stroke-width="0.9"/>
<path d="M646.50 353.00 C646.92 352.58 648.08 351.83 649.00 350.50 C649.92 349.17 650.95 346.85 652.00 345.00 C653.05 343.15 654.38 340.73 655.30 339.40 C656.22 338.07 656.77 337.50 657.50 337.00 C658.23 336.50 658.95 336.37 659.70 336.40 C660.45 336.43 661.28 336.85 662.00 337.20 C662.72 337.55 663.17 337.95 664.00 338.50 C664.83 339.05 666.12 340.05 667.00 340.50 C667.88 340.95 668.63 341.12 669.30 341.20 C669.97 341.28 670.42 341.15 671.00 341.00 C671.58 340.85 671.97 341.22 672.80 340.30 C673.63 339.38 674.82 337.27 676.00 335.50 C677.18 333.73 678.73 331.53 679.90 329.70 C681.07 327.87 681.83 326.12 683.00 324.50 C684.17 322.88 685.40 321.83 686.90 320.00 C688.40 318.17 690.25 315.53 692.00 313.50 C693.75 311.47 696.07 309.47 697.40 307.80 C698.73 306.13 698.90 305.05 700.00 303.50 C701.10 301.95 702.67 299.83 704.00 298.50 C705.33 297.17 706.52 296.82 708.00 295.50 C709.48 294.18 711.23 291.93 712.90 290.60 C714.57 289.27 716.20 288.22 718.00 287.50 C719.80 286.78 722.03 286.13 723.70 286.30 C725.37 286.47 726.57 287.42 728.00 288.50 C729.43 289.58 730.80 291.38 732.30 292.80 C733.80 294.22 735.22 295.57 737.00 297.00 C738.78 298.43 741.33 300.40 743.00 301.40 C744.67 302.40 745.57 302.65 747.00 303.00 C748.43 303.35 749.77 303.33 751.60 303.50 C753.43 303.67 755.85 303.85 758.00 304.00 C760.15 304.15 762.83 303.82 764.50 304.40 C766.17 304.98 766.55 305.85 768.00 307.50 C769.45 309.15 771.70 311.88 773.20 314.30 C774.70 316.72 775.57 319.13 777.00 322.00 C778.43 324.87 780.60 329.33 781.80 331.50 C783.00 333.67 782.98 333.48 784.20 335.00 C785.42 336.52 787.47 338.85 789.10 340.60 C790.73 342.35 792.47 343.97 794.00 345.50 C795.53 347.03 797.08 348.67 798.30 349.80 C799.52 350.93 800.52 351.75 801.30 352.30 C802.08 352.85 802.72 352.97 803.00 353.10" fill="#606060" stroke="#3a3a3a" stroke-width="0.9"/>
<path d="M585 119.5 H589.5 V353.1 H832.2 M585 353.1 H589.5 M586.5 236.2 H589.5 M655.7 353.1 v4 M744.0 353.1 v4 M832.3 353.1 v4 M611.6 353.1 v2.5 M699.9 353.1 v2.5 M788.2 353.1 v2.5 " fill="none" stroke="#858585" stroke-width="1.2"/>
<g font-family="Liberation Serif" fill="#000"><text transform="translate(113.60 63.30) scale(0.960 1)" font-size="29.50" text-anchor="end" >1.00</text><text transform="translate(113.40 193.20) scale(0.960 1)" font-size="29.50" text-anchor="end" >0.99</text><text transform="translate(113.30 322.50) scale(0.960 1)" font-size="29.50" text-anchor="end" >0.98</text><text transform="translate(155.20 441.80) scale(0.960 1)" font-size="29.50" text-anchor="middle" >-10</text><text transform="translate(241.15 442.00) scale(0.960 1)" font-size="29.50" text-anchor="middle" >-5</text><text transform="translate(327.30 441.60) scale(0.960 1)" font-size="29.50" text-anchor="middle" >0</text><text transform="translate(412.65 442.00) scale(0.960 1)" font-size="29.50" text-anchor="middle" >5</text><text transform="translate(499.80 441.80) scale(0.960 1)" font-size="29.50" text-anchor="middle" >10</text><text transform="translate(268.20 497.00) scale(0.919 1)" font-size="41.00" text-anchor="start" ><tspan font-style="italic">v</tspan>, mm/s</text><text transform="translate(31.4 217.2) rotate(-90) scale(1 0.96)" font-size="28.8" text-anchor="middle">Relative transmission</text><text transform="translate(488.00 380.20) scale(0.960 1)" font-size="40.00" text-anchor="start" >A</text><text transform="translate(543.00 95.00) scale(0.998 1)" font-size="28.50" text-anchor="start" >P(<tspan font-style="italic">B</tspan>)</text><text transform="translate(581.80 127.70) scale(0.929 1)" font-size="29.50" text-anchor="end" >0.01</text><text transform="translate(583.50 360.50) scale(0.960 1)" font-size="29.50" text-anchor="end" >0.00</text><text transform="translate(655.12 380.50) scale(0.960 1)" font-size="29.50" text-anchor="middle" >20</text><text transform="translate(743.42 380.50) scale(0.960 1)" font-size="29.50" text-anchor="middle" >40</text><text transform="translate(831.73 380.50) scale(0.960 1)" font-size="29.50" text-anchor="middle" >60</text><text transform="translate(685.60 425.20) scale(0.986 1)" font-size="29.50" text-anchor="start" ><tspan font-style="italic">B</tspan>, T</text><text transform="translate(798.20 177.90) scale(0.960 1)" font-size="40.00" text-anchor="start" >B</text></g>
</svg>
</body></html>
